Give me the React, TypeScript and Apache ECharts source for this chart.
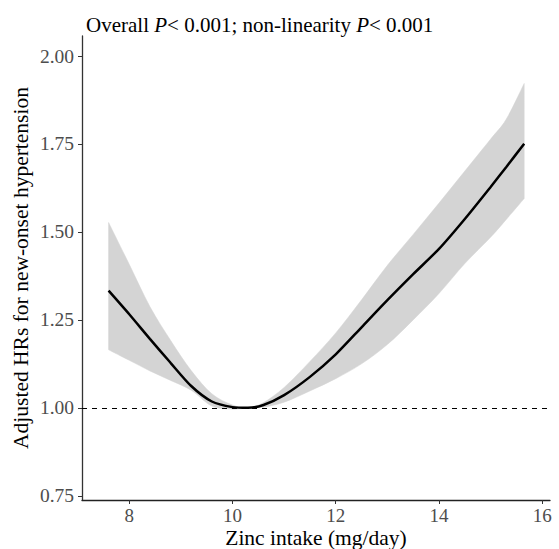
import React, { useEffect, useRef } from "react";
import * as echarts from "echarts";

const zinc = [7.6, 8.0, 8.4, 8.8, 9.2, 9.6, 10.0, 10.3, 10.6, 11.0, 11.5, 12.0, 12.5, 13.0, 13.5, 14.0, 14.5, 15.0, 15.3, 15.65];
const hr = [1.333, 1.266, 1.196, 1.128, 1.062, 1.018, 1.002, 1.0, 1.008, 1.036, 1.088, 1.152, 1.229, 1.306, 1.38, 1.452, 1.537, 1.628, 1.684, 1.751];
const upper = [1.527, 1.408, 1.288, 1.192, 1.106, 1.04, 1.008, 1.0, 1.015, 1.058, 1.132, 1.213, 1.307, 1.405, 1.493, 1.582, 1.673, 1.764, 1.82, 1.922];
const lower = [1.165, 1.135, 1.105, 1.078, 1.05, 1.005, 0.996, 1.0, 1.002, 1.016, 1.048, 1.083, 1.125, 1.18, 1.25, 1.325, 1.41, 1.485, 1.535, 1.595];
const xTicks = [8, 10, 12, 14, 16];
const yTicks = [0.75, 1.0, 1.25, 1.5, 1.75, 2.0];
const refHR = 1;

const SERIF = "'Liberation Serif', 'Times New Roman', serif";

// Catmull-Rom spline through pixel points, as SVG path commands (continuing an open path)
function splineSegs(pts: number[][], t = 1): string {
  let d = "";
  for (let i = 0; i < pts.length - 1; i++) {
    const p0 = pts[i - 1] || pts[i];
    const p1 = pts[i];
    const p2 = pts[i + 1];
    const p3 = pts[i + 2] || p2;
    const c1x = p1[0] + ((p2[0] - p0[0]) / 6) * t;
    const c1y = p1[1] + ((p2[1] - p0[1]) / 6) * t;
    const c2x = p2[0] - ((p3[0] - p1[0]) / 6) * t;
    const c2y = p2[1] - ((p3[1] - p1[1]) / 6) * t;
    d += ` C${c1x},${c1y} ${c2x},${c2y} ${p2[0]},${p2[1]}`;
  }
  return d;
}

export default function App() {
  const ref = useRef<HTMLDivElement>(null);
  useEffect(() => {
    if (!ref.current) return;
    const chart = echarts.init(ref.current, null, { renderer: "svg" });
    const bandData = zinc.map((x, i) => [x, lower[i], upper[i]]);
    const hrData = zinc.map((x, i) => [x, hr[i]]);
    chart.setOption({
      animation: false,
      backgroundColor: "#ffffff",
      title: {
        text: "{a|Overall }{i|P}{a|< 0.001; non-linearity }{i|P}{a|< 0.001}",
        left: 81,
        top: 9,
        textStyle: {
          rich: {
            a: { fontFamily: SERIF, fontSize: 21, color: "#000", fontWeight: "normal" },
            i: { fontFamily: SERIF, fontSize: 21, color: "#000", fontStyle: "italic", fontWeight: "normal" },
          },
        },
      },
      grid: { left: 82, right: 9, top: 36, bottom: 49, containLabel: false, outerBoundsMode: "none" },
      xAxis: {
        type: "value",
        min: 7.085,
        max: 16.15,
        name: "Zinc intake (mg/day)",
        nameLocation: "middle",
        nameGap: 27,
        nameMoveOverlap: false,
        nameTextStyle: { fontFamily: SERIF, fontSize: 21.5, color: "#000", lineHeight: 21 },
        axisLine: { show: true, onZero: false, lineStyle: { color: "#222", width: 1.3 } },
        axisTick: { show: true, length: 4, customValues: xTicks, lineStyle: { color: "#333", width: 1 } },
        axisLabel: {
          customValues: xTicks,
          margin: 6,
          fontFamily: SERIF,
          fontSize: 19,
          lineHeight: 19,
          color: "#4D4D4D",
        },
        splitLine: { show: false },
      },
      yAxis: {
        type: "value",
        min: 0.738,
        max: 2.057,
        name: "Adjusted HRs for new-onset hypertension",
        nameLocation: "middle",
        nameGap: 50,
        nameRotate: 90,
        nameMoveOverlap: false,
        nameTextStyle: { fontFamily: SERIF, fontSize: 21.5, color: "#000" },
        axisLine: { show: true, onZero: false, lineStyle: { color: "#333", width: 1.3 } },
        axisTick: { show: true, length: 4, customValues: yTicks, lineStyle: { color: "#333", width: 1 } },
        axisLabel: {
          customValues: yTicks,
          margin: 8,
          fontFamily: SERIF,
          fontSize: 19.5,
          color: "#4D4D4D",
          formatter: (v: number) => v.toFixed(2),
        },
        splitLine: { show: false },
      },
      series: [
        {
          type: "custom",
          data: bandData,
          encode: { x: 0, y: [1, 2] },
          silent: true,
          z: 1,
          renderItem: (params: any, api: any) => {
            if (params.dataIndex !== 0) return null;
            const top = bandData.map((d) => api.coord([d[0], d[2]]));
            const bottom = bandData.map((d) => api.coord([d[0], d[1]])).reverse();
            const pathData =
              `M${top[0][0]},${top[0][1]}` +
              splineSegs(top) +
              ` L${bottom[0][0]},${bottom[0][1]}` +
              splineSegs(bottom) +
              " Z";
            return {
              type: "path",
              shape: { pathData },
              style: { fill: "#D4D4D4", stroke: "#D4D4D4", lineWidth: 0.5 },
            };
          },
        },
        {
          type: "line",
          data: hrData,
          symbol: "none",
          smooth: 0.25,
          z: 3,
          lineStyle: { color: "#000", width: 2.5 },
          markLine: {
            silent: true,
            symbol: "none",
            label: { show: false },
            lineStyle: { color: "#000", width: 1.2, type: [5, 5] },
            data: [{ yAxis: refHR }],
          },
        },
      ],
    });
    return () => chart.dispose();
  }, []);
  return (
    <div
      ref={ref}
      style={{ position: "fixed", left: 0, top: 0, width: 559, height: 549, background: "#fff" }}
    />
  );
}
